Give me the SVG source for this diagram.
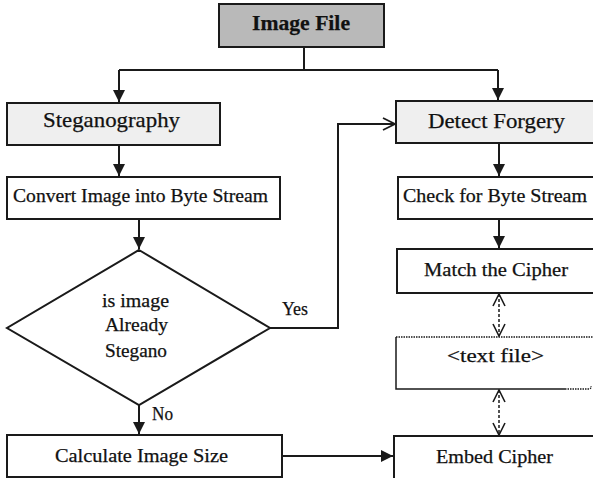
<svg xmlns="http://www.w3.org/2000/svg" width="593" height="478" viewBox="0 0 593 478">
<style>
.box{fill:#fff;stroke:#1a1a1a;stroke-width:2}
.lt{fill:#efefef}
.dk{fill:#b9b9b9}
.t{font-family:"Liberation Serif","Times New Roman",serif;font-size:19px;fill:#111;stroke:#111;stroke-width:0.25;text-anchor:start}
.c{fill:none;stroke:#1a1a1a;stroke-width:2}
.d{fill:none;stroke:#1a1a1a;stroke-width:1.5;stroke-dasharray:3 2}
</style>
<defs>
<marker id="fa" markerWidth="12" markerHeight="12" refX="12" refY="6" orient="auto" markerUnits="userSpaceOnUse" viewBox="0 0 12 12">
<path d="M0,0 L12,6 L0,12 z" fill="#1a1a1a"/>
</marker>
<marker id="oa" markerWidth="14" markerHeight="14" refX="13" refY="7" orient="auto" markerUnits="userSpaceOnUse" viewBox="0 0 14 14">
<path d="M1,1 L13,7 L1,13" fill="none" stroke="#1a1a1a" stroke-width="1.8"/>
</marker>
<marker id="oa2" markerWidth="14" markerHeight="14" refX="13" refY="7" orient="auto-start-reverse" markerUnits="userSpaceOnUse" viewBox="0 0 14 14">
<path d="M1,1 L13,7 L1,13" fill="none" stroke="#1a1a1a" stroke-width="1.6"/>
</marker>
</defs>

<g id="connectors">
<path class="c" d="M304,47 V70"/>
<path class="c" d="M119,70 H498"/>
<path class="c" d="M119,70 V102" marker-end="url(#fa)"/>
<path class="c" d="M498,70 V100" marker-end="url(#fa)"/>
<path class="c" d="M119,145 V176" marker-end="url(#fa)"/>
<path class="c" d="M139,219 V249" marker-end="url(#fa)"/>
<path class="c" d="M270,328 H338 V124 H395" marker-end="url(#oa)"/>
<path class="c" d="M139,405 V434" marker-end="url(#fa)"/>
<path class="c" d="M283,456 H393" marker-end="url(#fa)"/>
<path class="c" d="M499,143 V176" marker-end="url(#fa)"/>
<path class="c" d="M499,219 V248" marker-end="url(#fa)"/>
<path class="d" d="M499,294 V336" marker-start="url(#oa2)" marker-end="url(#oa2)"/>
<path class="d" d="M499,390 V435" marker-start="url(#oa2)" marker-end="url(#oa2)"/>
<text class="t" x="282" y="315" textLength="26" lengthAdjust="spacingAndGlyphs">Yes</text>
<text class="t" x="152" y="420" textLength="21" lengthAdjust="spacingAndGlyphs">No</text>
</g>

<g id="image-file">
<rect class="box dk" x="219" y="4" width="165" height="43"/>
<text class="t" x="252" y="30" style="font-weight:bold;font-size:22px" textLength="98" lengthAdjust="spacingAndGlyphs">Image File</text>
</g>

<g id="steganography">
<rect class="box lt" x="7" y="103" width="213" height="42"/>
<text class="t" x="43" y="127" style="font-size:21px" textLength="137" lengthAdjust="spacingAndGlyphs">Steganography</text>
</g>

<g id="convert">
<rect class="box" x="7" y="177" width="273" height="42"/>
<text class="t" x="13" y="202" textLength="255" lengthAdjust="spacingAndGlyphs">Convert Image into Byte Stream</text>
</g>

<g id="decision">
<polygon class="box" points="139,250 270,328 139,405 7,328"/>
<text class="t" x="102" y="307" textLength="67" lengthAdjust="spacingAndGlyphs">is image</text>
<text class="t" x="105" y="331" textLength="63" lengthAdjust="spacingAndGlyphs">Already</text>
<text class="t" x="105" y="357" textLength="62" lengthAdjust="spacingAndGlyphs">Stegano</text>
</g>

<g id="calculate">
<rect class="box" x="7" y="435" width="275" height="42"/>
<text class="t" x="55" y="462" textLength="173" lengthAdjust="spacingAndGlyphs">Calculate Image Size</text>
</g>

<g id="detect-forgery">
<rect class="box lt" x="396" y="101" width="210" height="42"/>
<text class="t" x="428" y="128" style="font-size:21px" textLength="137" lengthAdjust="spacingAndGlyphs">Detect Forgery</text>
</g>

<g id="check-byte">
<rect class="box" x="398" y="177" width="210" height="42"/>
<text class="t" x="403" y="202" textLength="184" lengthAdjust="spacingAndGlyphs">Check for Byte Stream</text>
</g>

<g id="match-cipher">
<rect class="box" x="397" y="249" width="210" height="44"/>
<text class="t" x="424" y="276" textLength="144" lengthAdjust="spacingAndGlyphs">Match the Cipher</text>
</g>

<g id="text-file">
<path d="M396,337 H600" fill="none" stroke="#1a1a1a" stroke-width="1.5" stroke-dasharray="1.5 1"/>
<path d="M396,337 V389 H565" fill="none" stroke="#1a1a1a" stroke-width="1.5"/>
<path d="M565,389 H589 Q591,389 591,386" fill="none" stroke="#1a1a1a" stroke-width="1.5" stroke-dasharray="1.5 1"/>
<text class="t" x="447" y="362" textLength="97" lengthAdjust="spacingAndGlyphs">&lt;text file&gt;</text>
</g>

<g id="embed-cipher">
<rect class="box" x="394" y="436" width="212" height="44"/>
<text class="t" x="436" y="463" textLength="117" lengthAdjust="spacingAndGlyphs">Embed Cipher</text>
</g>
</svg>
